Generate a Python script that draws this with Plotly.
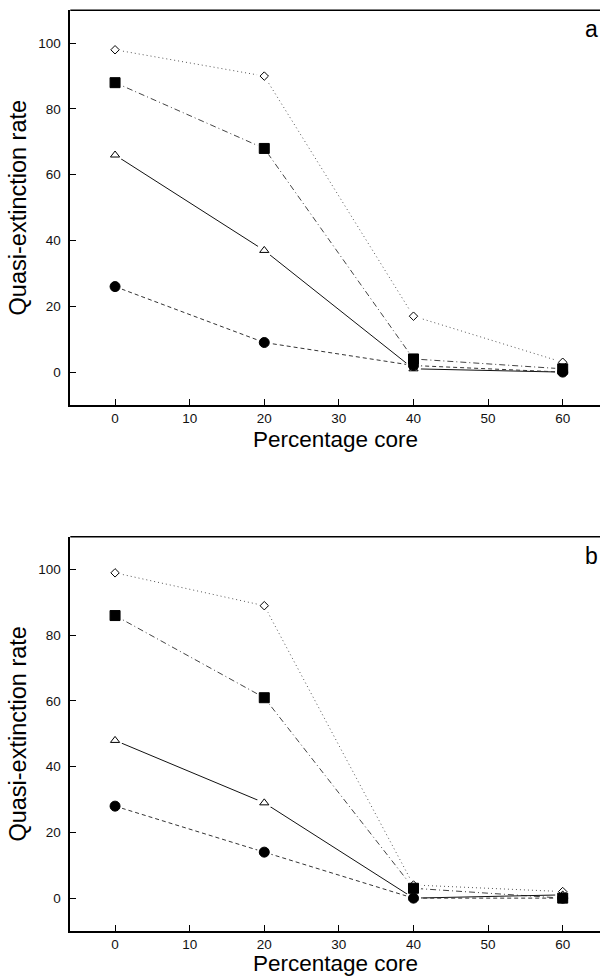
import plotly.graph_objects as go

# ---- data ----
core_pct = [0, 20, 40, 60]

# panel a
a_diamond = [98, 90, 17, 3]
a_square = [88, 68, 4, 1]
a_triangle = [66, 37, 1, 0]
a_circle = [26, 9, 2, 0]

# panel b
b_diamond = [99, 89, 4, 2]
b_square = [86, 61, 3, 0]
b_triangle = [48, 29, 0, 1]
b_circle = [28, 14, 0, 0]

y_ticks = [0, 20, 40, 60, 80, 100]
x_ticks = [0, 10, 20, 30, 40, 50, 60]
panel_labels = ["a", "b"]
x_title = "Percentage core"
y_title = "Quasi-extinction rate"

FONT = "Arial, Liberation Sans, Helvetica, sans-serif"

styles = [
    dict(symbol="diamond-open", size=6.5, color="#555555", dash="1px,3px"),
    dict(symbol="square", size=10, color="#444444", dash="6px,3px,1px,3px"),
    dict(symbol="triangle-up-open", size=8, color="#111111", dash="solid"),
    dict(symbol="circle", size=10, color="#333333", dash="4px,3px"),
]

panels = [
    [a_diamond, a_square, a_triangle, a_circle],
    [b_diamond, b_square, b_triangle, b_circle],
]

fig = go.Figure()

for p, series in enumerate(panels):
    xa = "x" if p == 0 else "x2"
    ya = "y" if p == 0 else "y2"
    for vals, st in zip(series, styles):
        fig.add_trace(go.Scatter(
            x=core_pct, y=vals, mode="lines", xaxis=xa, yaxis=ya,
            line=dict(color=st["color"], width=1, dash=st["dash"]),
            showlegend=False, hoverinfo="skip"))
    for vals, st in zip(series, styles):
        fig.add_trace(go.Scatter(
            x=core_pct, y=vals, mode="markers", xaxis=xa, yaxis=ya,
            marker=dict(symbol="circle", size=15, color="white", line=dict(width=0)),
            showlegend=False, hoverinfo="skip"))
    for vals, st in zip(series, styles):
        fig.add_trace(go.Scatter(
            x=core_pct, y=vals, mode="markers", xaxis=xa, yaxis=ya,
            marker=dict(symbol=st["symbol"], size=st["size"], color="black",
                        line=dict(color="black", width=1)),
            showlegend=False))

xdom = [70.3 / 600, 1.0]
ydom_a = [1 - 405 / 977, 1 - 10.3 / 977]
ydom_b = [1 - 931 / 977, 1 - 536.7 / 977]

def xaxis(anchor):
    return dict(
        domain=xdom, range=[-6, 65], anchor=anchor,
        tickmode="array", tickvals=x_ticks, ticktext=[str(t) for t in x_ticks],
        ticks="inside", ticklen=6, tickwidth=1, tickcolor="black",
        showline=True, linecolor="black", linewidth=2, mirror=False,
        showgrid=False, zeroline=False,
        tickfont=dict(family=FONT, size=13.5, color="#111111"),
        ticklabelstandoff=0,
        automargin=False,
    )

def yaxis(anchor, dom):
    return dict(
        domain=dom, range=[-10, 110], anchor=anchor,
        tickmode="array", tickvals=y_ticks, ticktext=[str(t) for t in y_ticks],
        ticks="inside", ticklen=6, tickwidth=1, tickcolor="black",
        showline=True, linecolor="black", linewidth=1.7, mirror=False,
        showgrid=False, zeroline=False,
        tickfont=dict(family=FONT, size=13.5, color="#111111"),
        ticklabelstandoff=5,
        title=dict(text=y_title, font=dict(family=FONT, size=23.5, color="black"), standoff=5),
        automargin=False,
    )

fig.update_layout(
    width=600, height=977,
    margin=dict(l=0, r=0, t=0, b=0),
    paper_bgcolor="white", plot_bgcolor="white",
    xaxis=xaxis("y"), yaxis=yaxis("x", ydom_a),
    xaxis2=xaxis("y2"), yaxis2=yaxis("x2", ydom_b),
    showlegend=False,
)

for xr, yr in [("x domain", "y domain"), ("x2 domain", "y2 domain")]:
    fig.add_shape(type="line", xref=xr, yref=yr, x0=0, x1=1, y0=1, y1=1,
                  line=dict(color="black", width=1.5))

for lab, top in zip(panel_labels, [ydom_a[1], ydom_b[1]]):
    fig.add_annotation(text=lab, xref="paper", yref="paper",
                       x=1.0, y=top - 19 / 977, xanchor="right", yanchor="middle",
                       showarrow=False, font=dict(family=FONT, size=23, color="black"))

# x-axis titles
for xr, ypix in [("x domain", 439), ("x2 domain", 963.5)]:
    fig.add_annotation(text=x_title, xref=xr, yref="paper",
                       x=0.5, y=1 - ypix / 977, xanchor="center", yanchor="middle",
                       showarrow=False, borderpad=0,
                       font=dict(family=FONT, size=22.5, color="black"))

fig.write_html("out.html")
